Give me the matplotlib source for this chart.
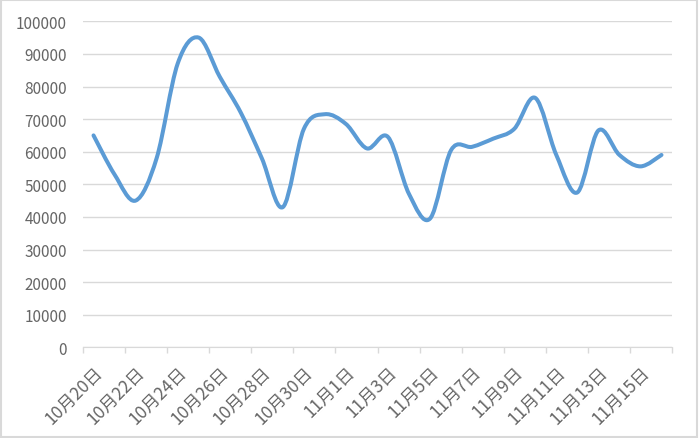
import matplotlib
matplotlib.use("Agg")
import matplotlib.pyplot as plt
import numpy as np
from matplotlib.path import Path
from matplotlib.patches import PathPatch, Rectangle

plt.rcParams['font.family'] = ['Noto Sans CJK SC', 'DejaVu Sans']

# 数据
dates = ["10月20日", "10月21日", "10月22日", "10月23日", "10月24日", "10月25日", "10月26日",
         "10月27日", "10月28日", "10月29日", "10月30日", "10月31日", "11月1日", "11月2日",
         "11月3日", "11月4日", "11月5日", "11月6日", "11月7日", "11月8日", "11月9日",
         "11月10日", "11月11日", "11月12日", "11月13日", "11月14日", "11月15日", "11月16日"]
values = [65000, 53000, 45000, 58000, 87000, 95000, 83000,
          72000, 58000, 43000, 67000, 71500, 68500, 61000,
          64500, 47000, 39500, 60500, 61500, 64000, 67000,
          76500, 59000, 47500, 66500, 59000, 55500, 59000]
y_ticks = list(range(0, 100001, 10000))

LINE_COLOR = "#5b9bd5"
GRID_COLOR = "#d9d9d9"
TEXT_COLOR = "#666666"


def smooth_path(xs, ys):
    # Excel 风格的平滑线 (Catmull-Rom -> 三次贝塞尔)
    pts = np.column_stack([xs, ys]).astype(float)
    n = len(pts)
    verts = [pts[0]]
    codes = [Path.MOVETO]
    for i in range(n - 1):
        p0 = pts[i - 1] if i > 0 else pts[i]
        p1 = pts[i]
        p2 = pts[i + 1]
        p3 = pts[i + 2] if i + 2 < n else pts[i + 1]
        c1 = p1 + (p2 - p0) / 6.0
        c2 = p2 - (p3 - p1) / 6.0
        verts.extend([c1, c2, p2])
        codes.extend([Path.CURVE4] * 3)
    return Path(verts, codes)


fig = plt.figure(figsize=(7, 4.39), dpi=100)
ax = fig.add_axes([83 / 700, 1 - 348.3 / 439, 589 / 700, (348.3 - 22.3) / 439])

x = np.arange(len(values))
patch = PathPatch(smooth_path(x, values), facecolor="none", edgecolor=LINE_COLOR,
                  lw=2.9, capstyle="round", joinstyle="round")
ax.add_patch(patch)

ax.set_xlim(-0.5, len(values) - 0.5)
ax.set_ylim(0, 100000)

# 横轴刻度
ax.set_xticks(x[::2])
ax.set_xticklabels(dates[::2], rotation=45, ha="right", rotation_mode="anchor",
                   fontsize=12.5, color=TEXT_COLOR, fontweight="light")
ax.set_xticks(np.arange(-0.5, len(values), 2), minor=True)
ax.tick_params(axis="x", which="major", length=0, pad=11)
ax.tick_params(axis="x", which="minor", length=4, color=GRID_COLOR, width=1)

ax.set_yticks(y_ticks)
ax.set_yticklabels([str(v) for v in y_ticks], fontsize=11, color=TEXT_COLOR,
                   fontweight="light")
ax.tick_params(axis="y", length=0, pad=11.5)

ax.grid(True, axis="y", color=GRID_COLOR, lw=1)
ax.set_axisbelow(True)
for s in ["top", "right", "left"]:
    ax.spines[s].set_visible(False)
ax.spines["bottom"].set_color(GRID_COLOR)
ax.spines["bottom"].set_zorder(0.5)

# 外框
fig.patches.append(Rectangle((0.002, 0.003), 0.994, 0.994, transform=fig.transFigure,
                             fill=False, edgecolor="#d9d9d9", lw=1.5))

fig.savefig("out.png", dpi=100)
